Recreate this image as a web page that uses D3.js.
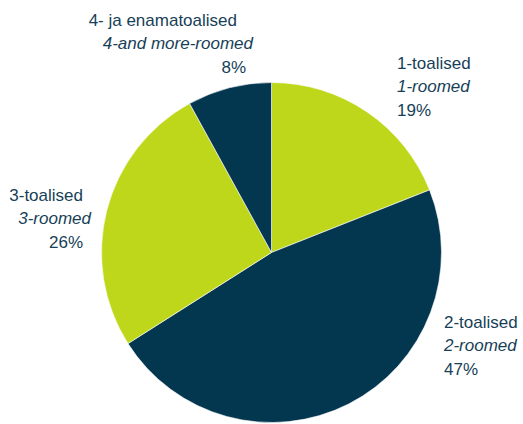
<!DOCTYPE html>
<html>
<head>
<meta charset="utf-8">
<script src="https://cdn.jsdelivr.net/npm/d3@7"></script>
<style>
  html, body { margin: 0; padding: 0; background: #fff; }
  svg { display: block; }
  text { font-family: "Liberation Sans", Arial, sans-serif; font-size: 17px; fill: #173f57; }
</style>
</head>
<body>
<svg id="chart" width="523" height="424"></svg>
<script>
// Data
const categories = ["1-toalised", "2-toalised", "3-toalised", "4- ja enamatoalised"];
const categoriesEn = ["1-roomed", "2-roomed", "3-roomed", "4-and more-roomed"];
const values = [19, 47, 26, 8];
const percentLabels = ["19%", "47%", "26%", "8%"];
const colors = ["#bfd71b", "#03364f", "#bfd71b", "#03364f"];

// Label layout (positions only)
const labelLayout = [
  { x: 397, y: 69, anchor: "start", dx: [0, 0, 0] },
  { x: 444, y: 328, anchor: "start", dx: [0, 0, 0] },
  { x: 83, y: 201, anchor: "end", dx: [0, 8, 0] },
  { x: 246, y: 26, anchor: "end", dx: [-9, 7, 0] }
];
const lineStep = 23.3;

const svg = d3.select("#chart");
const cx = 271.5, cy = 252.5, r = 170;

const pie = d3.pie().sort(null).value(d => d)
  .startAngle(0).endAngle(2 * Math.PI);
const arc = d3.arc().innerRadius(0).outerRadius(r);

const g = svg.append("g").attr("transform", `translate(${cx},${cy})`);
g.selectAll("path")
  .data(pie(values))
  .join("path")
  .attr("d", arc)
  .attr("fill", (d, i) => colors[i])
  .attr("stroke", "#ffffff")
  .attr("stroke-width", 0.6);

const labels = svg.append("g");
categories.forEach((c, i) => {
  const L = labelLayout[i];
  const lines = [
    { t: c, italic: false },
    { t: categoriesEn[i], italic: true },
    { t: percentLabels[i], italic: false }
  ];
  const txt = labels.append("text").attr("text-anchor", L.anchor);
  lines.forEach((ln, j) => {
    txt.append("tspan")
      .attr("x", L.x + L.dx[j])
      .attr("y", L.y + j * lineStep)
      .attr("font-style", ln.italic ? "italic" : "normal")
      .text(ln.t);
  });
});
</script>
</body>
</html>
